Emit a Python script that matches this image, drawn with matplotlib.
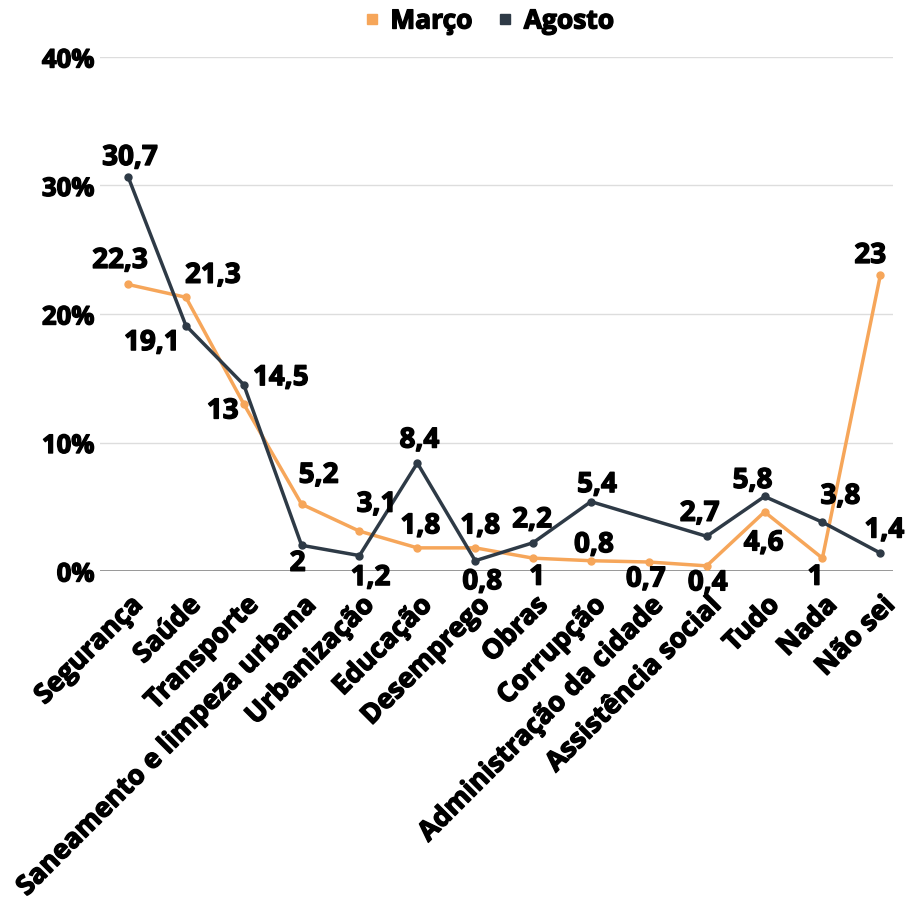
import numpy as np
import matplotlib
matplotlib.use("Agg")
import matplotlib.pyplot as plt
from matplotlib.lines import Line2D
import matplotlib.patheffects as pe
import matplotlib.transforms as mtransforms

plt.rcParams['font.family'] = ['Open Sans', 'DejaVu Sans']

categories = ["Segurança", "Saúde", "Transporte", "Saneamento e limpeza urbana",
              "Urbanização", "Educação", "Desemprego", "Obras", "Corrupção",
              "Administração da cidade", "Assistência social", "Tudo", "Nada", "Não sei"]
marco = [22.3, 21.3, 13, 5.2, 3.1, 1.8, 1.8, 1, 0.8, 0.7, 0.4, 4.6, 1, 23]
agosto = [30.7, 19.1, 14.5, 2, 1.2, 8.4, 0.8, 2.2, 5.4, np.nan, 2.7, 5.8, 3.8, 1.4]
yticks = [0, 10, 20, 30, 40]
ytick_labels = ["0%", "10%", "20%", "30%", "40%"]

# label offsets in pixels (dx, dy)
marco_off = [(-8, 24), (27, 22), (-21, -7), (17, 29), (17, 27), (3, 22), (5, 22),
             (4, -19), (3, 16), (-3, -17), (1, -17), (-1, -31), (-7, -19), (-10, 20)]
agosto_off = [(2, 19), (-34, -17), (37, 7), (-4, -18), (11, -22), (2, 23), (7, -21),
              (-1, 23), (6, 17), (0, 0), (-7, 23), (-12, 16), (18, 26), (4, 23)]

c_marco = "#F6A65A"
c_agosto = "#2E3A46"
heavy = [pe.withStroke(linewidth=1.0, foreground='black')]

fig = plt.figure(figsize=(9.08, 9.0), dpi=100)
ax = fig.add_axes([100/908, 1-571/900, 793/908, 514/900])

x = np.arange(len(categories))
ax.plot(x, marco, color=c_marco, lw=2.5, marker='o', ms=5, zorder=3)
ag = np.array(agosto, dtype=float)
mask = ~np.isnan(ag)
ax.plot(x[mask], ag[mask], color=c_agosto, lw=2.5, marker='o', ms=5, zorder=4)

def fmt(v):
    s = f"{v:g}"
    return s.replace('.', ',')

lab_fs = 20
for xi, v, (dx, dy) in zip(x, marco, marco_off):
    ax.annotate(fmt(v), (xi, v), xytext=(dx, dy), textcoords='offset pixels',
                ha='center', va='center', fontsize=lab_fs, fontweight='bold', color='black',
                zorder=5, path_effects=heavy)
for xi, v, (dx, dy) in zip(x, agosto, agosto_off):
    if np.isnan(v):
        continue
    ax.annotate(fmt(v), (xi, v), xytext=(dx, dy), textcoords='offset pixels',
                ha='center', va='center', fontsize=lab_fs, fontweight='bold', color='black',
                zorder=5, path_effects=heavy)

ax.set_xlim(-0.484, 13.22)
ax.set_ylim(0, 40)
ax.set_yticks(yticks)
ax.set_yticklabels(ytick_labels, fontsize=18.5, fontweight='bold')
ax.set_xticks(x)
ax.set_xticklabels([])
for t in ax.get_yticklabels():
    t.set_path_effects(heavy)

# category labels, rotated, anchored at their right end
lab_tr = ax.get_xaxis_transform() + mtransforms.ScaledTranslation(11/100, -30/100, fig.dpi_scale_trans)
for xi, cat in zip(x, categories):
    ax.text(xi, 0, cat, transform=lab_tr, rotation=45, ha='right', va='center',
            rotation_mode='anchor', fontsize=19.5, fontweight='bold', color='black',
            path_effects=heavy, clip_on=False)

ax.tick_params(axis='both', length=0)
ax.tick_params(axis='y', pad=4)
for s in ax.spines.values():
    s.set_visible(False)
ax.grid(axis='y', color='#DDDDDD', lw=1)
ax.axhline(0, color='#888888', lw=1.2, zorder=2)
ax.set_axisbelow(True)

handles = [Line2D([], [], color=c_marco, marker='s', ls='none', ms=7),
           Line2D([], [], color=c_agosto, marker='s', ls='none', ms=7)]
leg = fig.legend(handles, ["Março", "Agosto"], loc='center', bbox_to_anchor=(0.537, 1-21/900),
           ncol=2, frameon=False, prop={'size': 19, 'weight': 'bold'},
           handletextpad=0.3, columnspacing=0.85, handlelength=0.8)
for t in leg.get_texts():
    t.set_path_effects(heavy)

fig.savefig("out.png", dpi=100)
